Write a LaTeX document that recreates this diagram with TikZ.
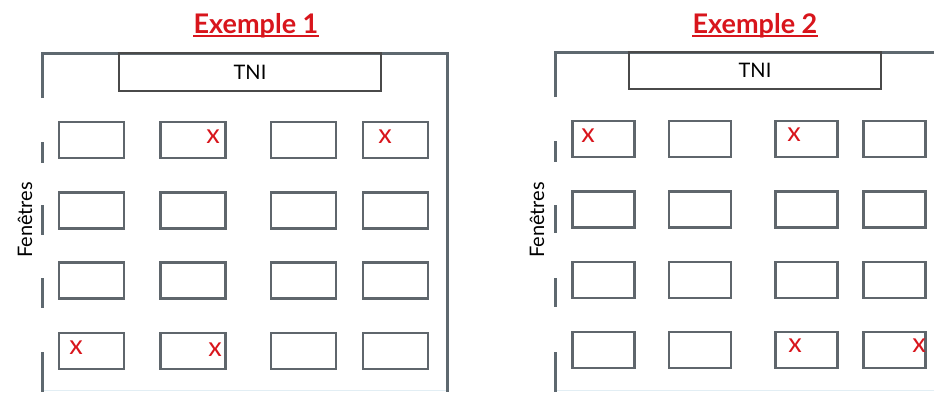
\documentclass[tikz,border=0pt]{standalone}
\usepackage{fontspec}
\setmainfont{Lato}
\definecolor{wallc}{HTML}{5E686F}
\definecolor{deskc}{HTML}{5F666C}
\definecolor{tnic}{HTML}{4A4A4A}
\definecolor{redc}{HTML}{D8151C}
\definecolor{floorc}{HTML}{E2EEF4}
\tikzset{
  wall/.style={draw=wallc,line width=3pt},
  desk/.style={draw=deskc,line width=2.3pt,rectangle,minimum width=64pt,minimum height=36pt,inner sep=0pt},
  tnibox/.style={draw=tnic,line width=1.5pt,rectangle,inner sep=0pt,font=\fontsize{20}{20}\selectfont},
  xmark/.style={text=redc,inner sep=0pt,font=\fontsize{27}{27}\selectfont},
  titl/.style={text=redc,inner sep=0pt,font=\bfseries\fontsize{27}{27}\selectfont},
  fen/.style={rotate=90,inner sep=0pt,font=\fontsize{20}{20}\selectfont},
}
\begin{document}
\begin{tikzpicture}[x=1pt,y=-1pt]
\useasboundingbox (0,0) rectangle (934,392);
% ---------- Example 1 ----------
\node[titl,anchor=base] (t1) at (256,33) {Exemple 1};
\draw[redc,line width=1.4pt] ([yshift=-3pt]t1.base west) -- ([yshift=-3pt]t1.base east);
\draw[floorc,line width=1pt] (42,390) -- (447,390);
\draw[wall] (42,98) -- (42,53) -- (447,53) -- (447,392);
\draw[wall] (42,142) -- (42,163);
\draw[wall] (42,205) -- (42,235);
\draw[wall] (42,278) -- (42,308);
\draw[wall] (42,352) -- (42,392);
\node[tnibox,minimum width=262pt,minimum height=38pt] (tni1) at (250,72) {TNI};
\node[fen] (f1) at (25,220) {Fenêtres};
\foreach \c/\x in {1/91.5,2/193,3/303.5,4/395.5}{
  \foreach \r/\y in {1/140,2/210.5,3/280.5,4/351}{
    \node[desk,minimum width=65pt] (a\r\c) at (\x,\y) {};
  }
}
\node[xmark] (xa1) at (213,137) {x};
\node[xmark] (xa2) at (385,137) {x};
\node[xmark] (xa3) at (76,348) {x};
\node[xmark] (xa4) at (215,350) {x};
% ---------- Example 2 ----------
\node[titl,anchor=base] (t2) at (755,33) {Exemple 2};
\draw[redc,line width=1.4pt] ([yshift=-3pt]t2.base west) -- ([yshift=-3pt]t2.base east);
\draw[floorc,line width=1pt] (555,390) -- (934,390);
\draw[wall] (555,97) -- (555,52) -- (934,52);
\draw[wall] (555,141) -- (555,162);
\draw[wall] (555,205) -- (555,233);
\draw[wall] (555,278) -- (555,307);
\draw[wall] (555,352) -- (555,392);
\node[tnibox,minimum width=252pt,minimum height=37pt] (tni2) at (755,70.5) {TNI};
\node[fen] (f2) at (537,220) {Fenêtres};
\foreach \c/\x in {1/603.5,2/700,3/806.5,4/894.5}{
  \foreach \r/\y in {1/139,2/209.5,3/280,4/350}{
    \node[desk,minimum width=62pt] (b\r\c) at (\x,\y) {};
  }
}
\node[xmark] (xb1) at (588,136) {x};
\node[xmark] (xb2) at (794,135) {x};
\node[xmark] (xb3) at (795,346) {x};
\node[xmark] (xb4) at (919,346) {x};
\end{tikzpicture}
\end{document}
